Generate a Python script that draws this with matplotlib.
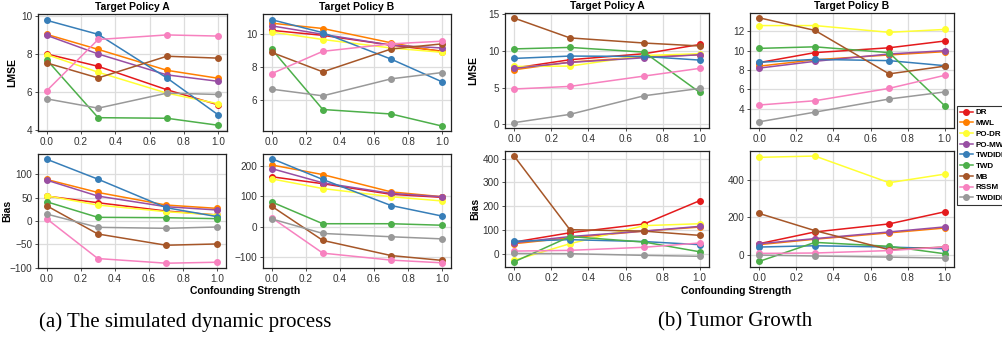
import matplotlib
matplotlib.use("Agg")
import matplotlib.pyplot as plt

plt.rcParams["font.family"] = ["Liberation Sans", "DejaVu Sans"]

X = [0.0, 0.3, 0.7, 1.0]
METHODS = ["DR", "MWL", "PO-DR", "PO-MWL", "TWDIDP", "TWD", "MB", "RSSM", "TWDIDP"]
COLORS = ["#e41a1c", "#ff7f00", "#ffff33", "#984ea3", "#377eb8",
          "#4daf4a", "#a65628", "#f781bf", "#999999"]

# simulated dynamic process, policy A / B
sim_lmse_a = [
    [8.00, 7.35, 6.12, 5.32],
    [9.03, 8.24, 7.14, 6.72],
    [7.97, 7.04, 5.94, 5.38],
    [8.98, 8.00, 6.90, 6.56],
    [9.77, 9.03, 6.74, 4.79],
    [7.70, 4.65, 4.62, 4.25],
    [7.53, 6.74, 7.88, 7.78],
    [6.06, 8.76, 9.00, 8.94],
    [5.64, 5.15, 5.94, 5.87],
]
sim_lmse_b = [
    [10.20, 9.90, 9.31, 8.95],
    [10.63, 10.31, 9.45, 8.90],
    [10.10, 9.65, 9.14, 8.88],
    [10.47, 9.96, 9.31, 9.14],
    [10.84, 10.06, 8.47, 7.10],
    [9.08, 5.45, 5.18, 4.45],
    [8.88, 7.71, 9.08, 9.39],
    [7.60, 8.94, 9.39, 9.55],
    [6.67, 6.27, 7.29, 7.67],
]
sim_bias_a = [
    [53.6, 39.3, 21.4, 12.9],
    [89.3, 61.4, 34.3, 27.1],
    [54.3, 34.3, 20.0, 12.9],
    [87.9, 53.6, 30.7, 23.6],
    [132.9, 90.0, 28.6, 9.3],
    [41.4, 7.9, 7.1, 5.0],
    [32.9, -27.9, -52.1, -49.3],
    [5.0, -80.7, -90.7, -88.6],
    [15.0, -13.6, -15.7, -12.9],
]
sim_bias_b = [
    [165, 142, 107, 97],
    [204, 172, 115, 99],
    [158, 126, 99, 85],
    [192, 145, 110, 99],
    [225, 156, 70, 35],
    [82, 10, 10, 5],
    [68, -45, -95, -111],
    [30, -87, -110, -119],
    [26, -22, -33, -40],
]

# tumor growth, policy A / B
tum_lmse_a = [
    [7.68, 8.82, 9.64, 10.90],
    [7.45, 8.50, 9.20, 9.50],
    [7.90, 7.95, 9.40, 9.64],
    [7.64, 8.45, 9.09, 9.50],
    [9.00, 9.32, 9.27, 8.77],
    [10.30, 10.50, 9.86, 4.36],
    [14.50, 11.80, 11.10, 10.70],
    [4.82, 5.18, 6.59, 7.64],
    [0.23, 1.36, 3.90, 4.90],
]
tum_lmse_b = [
    [8.77, 9.80, 10.30, 11.00],
    [8.40, 9.06, 9.56, 9.90],
    [12.60, 12.60, 11.90, 12.20],
    [8.20, 8.90, 9.66, 10.00],
    [8.80, 9.10, 8.97, 8.45],
    [10.24, 10.40, 9.80, 4.30],
    [13.40, 12.10, 7.60, 8.40],
    [4.38, 4.82, 6.10, 7.45],
    [2.64, 3.64, 5.00, 5.73],
]
tum_bias_a = [
    [49, 88, 125, 223],
    [42, 67, 95, 112],
    [-28, 42, 118, 126],
    [46, 72, 95, 115],
    [52, 59, 51, 38],
    [-34, 72, 49, 8],
    [410, 101, 95, 77],
    [11, 14, 27, 45],
    [1, 0, -7, -11],
]
tum_bias_b = [
    [59, 122, 165, 230],
    [54, 83, 117, 143],
    [522, 529, 386, 432],
    [59, 86, 122, 149],
    [41, 48, 41, 32],
    [-36, 66, 45, 5],
    [221, 129, 27, 41],
    [7, 9, 22, 41],
    [-2, -7, -13, -18],
]

W, H = 1002, 338


def px_axes(fig, x0, y0, x1, y1):
    return fig.add_axes([x0 / W, 1 - y1 / H, (x1 - x0) / W, (y1 - y0) / H])


def draw(ax, series, ylim, yticks, title=None, ylabel=None, label_x=None):
    ax.set_facecolor("white")
    ax.grid(True, color="#dddddd", linewidth=0.9)
    ax.set_axisbelow(True)
    for vals, c in zip(series, COLORS):
        ax.plot(X, vals, color=c, marker="o", markersize=4, linewidth=1.1)
    ax.set_xlim(-0.05, 1.05)
    ax.set_xticks([0.0, 0.2, 0.4, 0.6, 0.8, 1.0])
    ax.set_ylim(*ylim)
    ax.set_yticks(yticks)
    ax.tick_params(labelsize=7.2, length=2.5, width=0.6, pad=1.5, colors="#333333")
    for s in ax.spines.values():
        s.set_color("#222222")
        s.set_linewidth(0.9)
    if title:
        ax.set_title(title, fontsize=7.5, fontweight="bold", pad=3)
    if ylabel:
        ax.set_ylabel(ylabel, fontsize=7.5, fontweight="bold")
        ax.yaxis.set_label_coords(label_x, 0.5)


fig = plt.figure(figsize=(W / 100, H / 100), dpi=100)

draw(px_axes(fig, 38, 14, 227, 131), sim_lmse_a, (3.95, 10.1), [4, 6, 8, 10], "Target Policy A", "LMSE", -0.11)
draw(px_axes(fig, 263, 14, 451, 131), sim_lmse_b, (4.16, 11.18), [6, 8, 10], "Target Policy B")
draw(px_axes(fig, 38, 154, 226, 268), sim_bias_a, (-101, 144), [-100, -50, 0, 50, 100], ylabel="Bias", label_x=-0.135)
draw(px_axes(fig, 263, 154, 451, 268), sim_bias_b, (-136, 240), [-100, 0, 100, 200])

draw(px_axes(fig, 505, 13, 709, 128), tum_lmse_a, (-0.5, 15.2), [0, 5, 10, 15], "Target Policy A", "LMSE", -0.13)
draw(px_axes(fig, 750, 13, 954, 128), tum_lmse_b, (2.0, 13.9), [4, 6, 8, 10, 12], "Target Policy B")
draw(px_axes(fig, 505, 151, 709, 267), tum_bias_a, (-56, 432), [0, 100, 200, 300, 400], ylabel="Bias", label_x=-0.12)
draw(px_axes(fig, 750, 151, 954, 267), tum_bias_b, (-66, 556), [0, 200, 400])

fig.text(245 / W, 1 - 291 / H, "Confounding Strength", fontsize=7.5, fontweight="bold", ha="center", va="center")
fig.text(736 / W, 1 - 291 / H, "Confounding Strength", fontsize=7.5, fontweight="bold", ha="center", va="center")

serif = ["Liberation Serif", "DejaVu Serif"]
fig.text(185 / W, 1 - 322 / H, "(a) The simulated dynamic process", fontsize=15, family=serif, ha="center", va="center")
fig.text(735 / W, 1 - 322 / H, "(b) Tumor Growth", fontsize=15, family=serif, ha="center", va="center")

handles = [plt.Line2D([], [], color=c, marker="o", markersize=4, linewidth=1.1) for c in COLORS]
leg = fig.legend(handles, METHODS, loc="upper left", bbox_to_anchor=(957 / W, 1 - 106 / H),
                 fontsize=5.8, frameon=True, fancybox=False, handlelength=1.6,
                 handletextpad=0.35, labelspacing=0.38, borderpad=0.35, borderaxespad=0)
leg.get_frame().set_edgecolor("black")
leg.get_frame().set_linewidth(0.8)
for t in leg.get_texts():
    t.set_fontweight("bold")

fig.savefig("out.png", dpi=100)
